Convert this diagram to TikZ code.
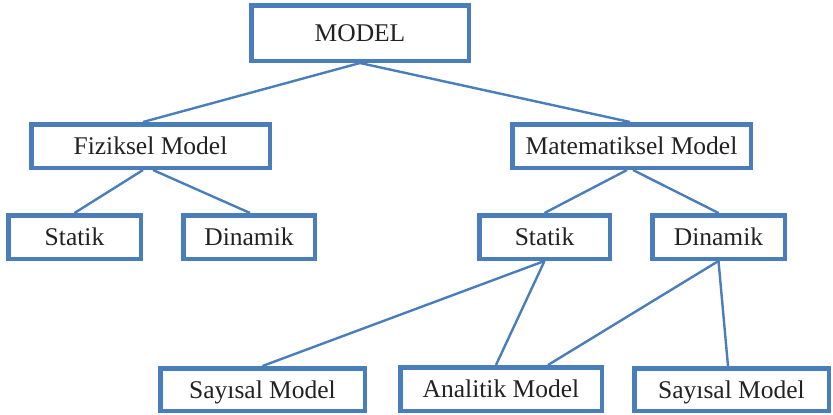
\documentclass[tikz,border=0pt]{standalone}
\usepackage{fontspec}
\setmainfont{Liberation Serif}
\definecolor{boxblue}{HTML}{4A7EBB}
\definecolor{txt}{HTML}{222222}
\begin{document}
\begin{tikzpicture}[x=1pt,y=-1pt,
  box/.style={draw=boxblue, line width=4.5pt, fill=white, inner sep=0pt,
    minimum height=43.5pt, text=txt,
    font=\fontsize{25.5}{28}\selectfont, text height=17pt, text depth=0pt},
  link/.style={draw=boxblue, line width=2.4pt}]
\useasboundingbox (0,0) rectangle (833,415);

% boxes
\node[box, minimum width=217.5pt, minimum height=55.5pt] (model) at (360,33) {MODEL};
\node[box, minimum width=238.5pt] (fiz) at (150.5,146) {Fiziksel Model};
\node[box, minimum width=238.5pt] (mat) at (631.5,146) {Matematiksel Model};
\node[box, minimum width=132.5pt] (statL) at (74.5,237) {Statik};
\node[box, minimum width=131.5pt] (dinL) at (249,237) {Dinamik};
\node[box, minimum width=130.5pt] (statR) at (544.5,237) {Statik};
\node[box, minimum width=132.5pt] (dinR) at (718.5,237) {Dinamik};
\node[box, minimum width=204.5pt, minimum height=42.5pt] (sayL) at (262.5,389.5) {Sayısal Model};
\node[box, minimum width=201.5pt, minimum height=43.5pt] (anal) at (501,389) {Analitik Model};
\node[box, minimum width=194.5pt, minimum height=42.5pt] (sayR) at (731.5,389.5) {Sayısal Model};

% connectors
\draw[link] (model.south) -- ([xshift=-7.5pt]fiz.north);
\draw[link] (model.south) -- ([xshift=-1.5pt]mat.north);
\draw[link] ([xshift=-7.5pt]fiz.south) -- (statL.north);
\draw[link] ([xshift=2.5pt]fiz.south) -- ([xshift=1pt]dinL.north);
\draw[link] ([xshift=-4.5pt]mat.south) -- (statR.north);
\draw[link] ([xshift=1.5pt]mat.south) -- (dinR.north);
\draw[link] (statR.south) -- (sayL.north);
\draw[link] (statR.south) -- ([xshift=-5pt]anal.north);
\draw[link] (dinR.south) -- ([xshift=47pt]anal.north);
\draw[link] (dinR.south) -- ([xshift=-3.5pt]sayR.north);
\end{tikzpicture}
\end{document}
